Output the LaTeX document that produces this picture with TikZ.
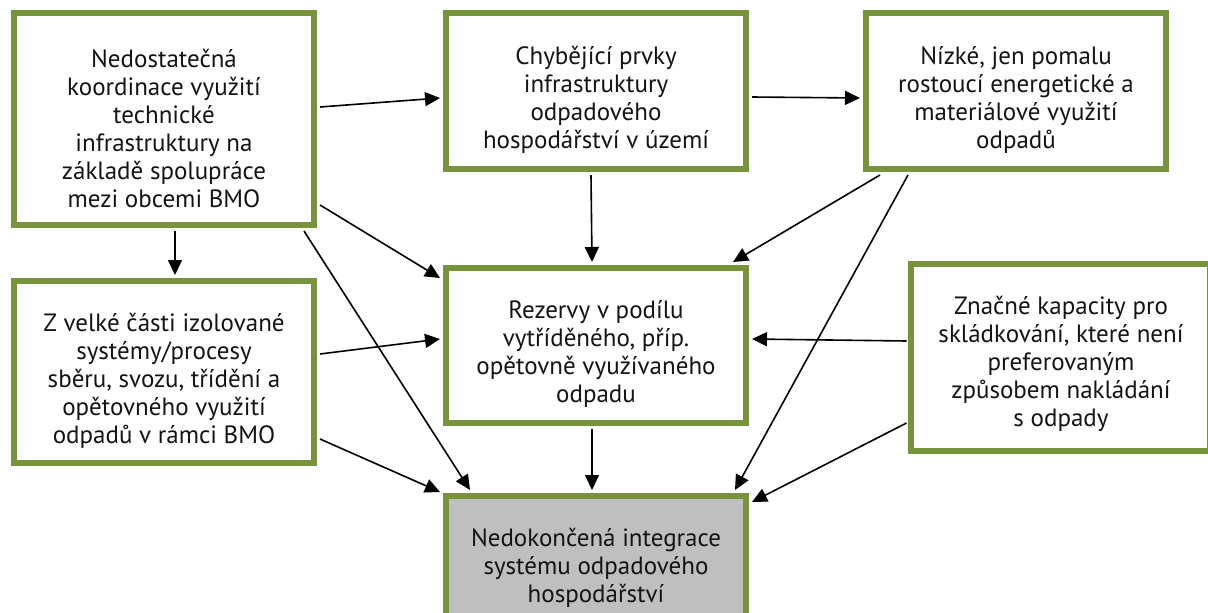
\documentclass[tikz,border=0pt]{standalone}
\usepackage{fontspec}
\setmainfont{PT Sans}
\usetikzlibrary{calc,arrows.meta}
\definecolor{boxgreen}{RGB}{119,147,60}
\definecolor{boxgray}{RGB}{191,191,191}
\begin{document}
\begin{tikzpicture}[x=1pt,y=-1pt,
  box/.style={draw=boxgreen,line width=6pt,fill=white,minimum width=#1,inner sep=0pt,rectangle},
  txt/.style={align=center,font=\fontsize{25}{28}\selectfont,inner sep=0pt,text=black!92},
  conn/.style={line width=1.6pt,-{Triangle[length=15pt,width=14pt]}}]
\useasboundingbox (0,0) rectangle (1208,613);
\clip (0,0) rectangle (1208,613);
\fill[white] (0,0) rectangle (1208,613);
% boxes
\node[box=300pt,minimum height=212pt] (A) at (164,119) {};
\node[box=300pt,minimum height=156pt] (B) at (596,91) {};
\node[box=300pt,minimum height=156pt] (C) at (1016,91) {};
\node[box=300pt,minimum height=182pt] (D) at (164,372) {};
\node[box=300pt,minimum height=155pt] (E) at (596,345.5) {};
\node[box=300pt,minimum height=152pt,fill=boxgray] (F) at (596,572) {};
\node[box=299pt,minimum height=187pt] (G) at (1060.5,357.5) {};
% texts
\node[txt] (At) at (164,128) {Nedostatečná\\koordinace využití\\technické\\infrastruktury na\\základě spolupráce\\mezi obcemi BMO};
\node[txt] (Bt) at (596,100) {Chybějící prvky\\infrastruktury\\odpadového\\hospodářství v území};
\node[txt] (Ct) at (1016,100) {Nízké, jen pomalu\\rostoucí energetické a\\materiálové využití\\odpadů};
\node[txt] (Dt) at (164,381) {Z velké části izolované\\systémy/procesy\\sběru, svozu, třídění a\\opětovného využití\\odpadů v rámci BMO};
\node[txt] (Et) at (596,354) {Rezervy v podílu\\vytříděného, příp.\\opětovně využívaného\\odpadu};
\node[txt] (Ft) at (596,568) {Nedokončená integrace\\systému odpadového\\hospodářství};
\node[txt] (Gt) at (1061,364) {Značné kapacity pro\\skládkování, které není\\preferovaným\\způsobem nakládání\\s odpady};
% connectors
\draw[conn] ($(A.east)+(3,-12)$) -- ($(B.west)+(-3,7)$);
\draw[conn] ($(B.east)+(3,6)$) -- ($(C.west)+(-3,7)$);
\draw[conn] ($(A.south)+(11,3)$) -- ($(D.north)+(11,-3)$);
\draw[conn] ($(A.east)+(3,86)$) -- ($(E.north west)+(-3,13)$);
\draw[conn] ($(A.south east)+(-13,3)$) -- ($(F.north west)+(27,-3)$);
\draw[conn] ($(B.south)+(-5,3)$) -- ($(E.north)+(-4,-3)$);
\draw[conn] ($(C.south west)+(17,3)$) -- ($(E.north east)+(-16,-3)$);
\draw[conn] ($(C.south west)+(45,3)$) -- ($(F.north east)+(-14,-3)$);
\draw[conn] ($(D.east)+(3,-18)$) -- ($(E.west)+(-3,-6.5)$);
\draw[conn] ($(D.east)+(3,67)$) -- ($(F.north west)+(-3,-1)$);
\draw[conn] ($(E.south)+(-4,3)$) -- ($(F.north)+(-4,-3)$);
\draw[conn] ($(G.west)+(-1.5,-16.5)$) -- ($(E.east)+(3,-6.5)$);
\draw[conn] ($(G.west)+(-1.5,65.5)$) -- ($(F.north east)+(3,9)$);
\end{tikzpicture}
\end{document}
